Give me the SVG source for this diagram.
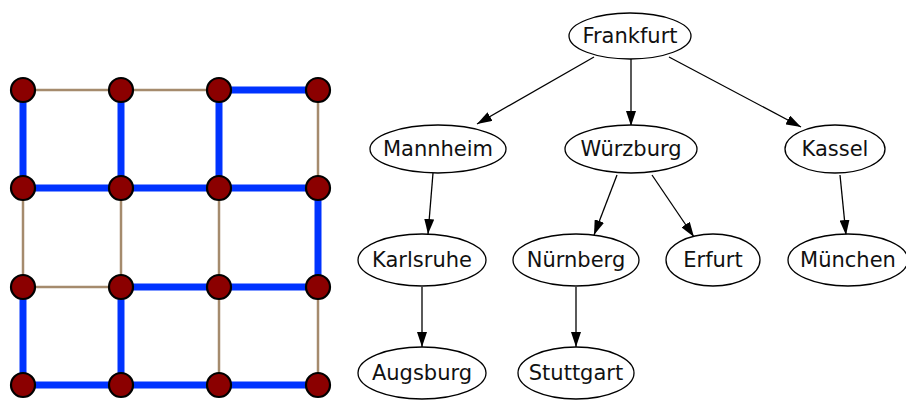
<svg xmlns="http://www.w3.org/2000/svg" width="906" height="401" viewBox="0 0 906 401">
<defs>
<style>
.thin{stroke:#a58b6d;stroke-width:2.5;fill:none}
.thick{stroke:#0033ff;stroke-width:7;fill:none}
.v{fill:#8b0000;stroke:#000;stroke-width:2.2}
.n ellipse{fill:#fff;stroke:#000;stroke-width:1.3}
.n text{font-family:"DejaVu Sans",sans-serif;font-size:21px;text-anchor:middle;fill:#111}
.e{stroke:#000;stroke-width:1.3;fill:none;marker-end:url(#ah)}
</style>
<marker id="ah" viewBox="0 0 15 10" refX="15" refY="5" markerWidth="15" markerHeight="10" markerUnits="userSpaceOnUse" orient="auto">
<path d="M0,0 L15,5 L0,10 z" fill="#000"/>
</marker>
</defs>
<rect width="906" height="401" fill="#fff"/>
<g id="grid-edges">
<line class="thin" x1="23" y1="90" x2="219" y2="90"/>
<line class="thick" x1="219" y1="90" x2="318" y2="90"/>
<line class="thick" x1="23" y1="90" x2="23" y2="188"/>
<line class="thick" x1="121" y1="90" x2="121" y2="188"/>
<line class="thick" x1="219" y1="90" x2="219" y2="188"/>
<line class="thin" x1="318" y1="90" x2="318" y2="188"/>
<line class="thick" x1="23" y1="188" x2="318" y2="188"/>
<line class="thin" x1="23" y1="188" x2="23" y2="287"/>
<line class="thin" x1="121" y1="188" x2="121" y2="287"/>
<line class="thin" x1="219" y1="188" x2="219" y2="287"/>
<line class="thick" x1="318" y1="188" x2="318" y2="287"/>
<line class="thin" x1="23" y1="287" x2="121" y2="287"/>
<line class="thick" x1="121" y1="287" x2="318" y2="287"/>
<line class="thick" x1="23" y1="287" x2="23" y2="385"/>
<line class="thick" x1="121" y1="287" x2="121" y2="385"/>
<line class="thin" x1="219" y1="287" x2="219" y2="385"/>
<line class="thin" x1="318" y1="287" x2="318" y2="385"/>
<line class="thick" x1="23" y1="385" x2="318" y2="385"/>
</g>
<g id="grid-nodes">
<circle class="v" cx="23" cy="90" r="12"/><circle class="v" cx="121" cy="90" r="12"/><circle class="v" cx="219" cy="90" r="12"/><circle class="v" cx="318" cy="90" r="12"/>
<circle class="v" cx="23" cy="188" r="12"/><circle class="v" cx="121" cy="188" r="12"/><circle class="v" cx="219" cy="188" r="12"/><circle class="v" cx="318" cy="188" r="12"/>
<circle class="v" cx="23" cy="287" r="12"/><circle class="v" cx="121" cy="287" r="12"/><circle class="v" cx="219" cy="287" r="12"/><circle class="v" cx="318" cy="287" r="12"/>
<circle class="v" cx="23" cy="385" r="12"/><circle class="v" cx="121" cy="385" r="12"/><circle class="v" cx="219" cy="385" r="12"/><circle class="v" cx="318" cy="385" r="12"/>
</g>
<g id="connectors">
<line class="e" x1="594" y1="57" x2="477" y2="124"/>
<line class="e" x1="631" y1="59" x2="631" y2="126"/>
<line class="e" x1="669" y1="57" x2="801" y2="127"/>
<line class="e" x1="433" y1="173" x2="428" y2="234"/>
<line class="e" x1="617" y1="175" x2="594" y2="235"/>
<line class="e" x1="652" y1="175" x2="694" y2="237"/>
<line class="e" x1="840" y1="175" x2="846" y2="235"/>
<line class="e" x1="422" y1="287" x2="422" y2="347"/>
<line class="e" x1="576" y1="287" x2="576" y2="347"/>
</g>
<g id="Frankfurt" class="n"><ellipse cx="630" cy="36" rx="61" ry="23"/><text x="630" y="43">Frankfurt</text></g>
<g id="Mannheim" class="n"><ellipse cx="438" cy="149" rx="68" ry="24"/><text x="438" y="156">Mannheim</text></g>
<g id="Wuerzburg" class="n"><ellipse cx="631" cy="149" rx="66" ry="24"/><text x="631" y="156">Würzburg</text></g>
<g id="Kassel" class="n"><ellipse cx="835" cy="149" rx="50" ry="24"/><text x="835" y="156">Kassel</text></g>
<g id="Karlsruhe" class="n"><ellipse cx="422" cy="260" rx="64" ry="26"/><text x="422" y="267">Karlsruhe</text></g>
<g id="Nuernberg" class="n"><ellipse cx="576" cy="260" rx="63" ry="26"/><text x="576" y="267">Nürnberg</text></g>
<g id="Erfurt" class="n"><ellipse cx="713" cy="260" rx="47" ry="26"/><text x="713" y="267">Erfurt</text></g>
<g id="Muenchen" class="n"><ellipse cx="848" cy="260" rx="60" ry="26"/><text x="848" y="267">München</text></g>
<g id="Augsburg" class="n"><ellipse cx="422" cy="373" rx="64" ry="26"/><text x="422" y="380">Augsburg</text></g>
<g id="Stuttgart" class="n"><ellipse cx="576" cy="373" rx="58" ry="26"/><text x="576" y="380">Stuttgart</text></g>
</svg>
